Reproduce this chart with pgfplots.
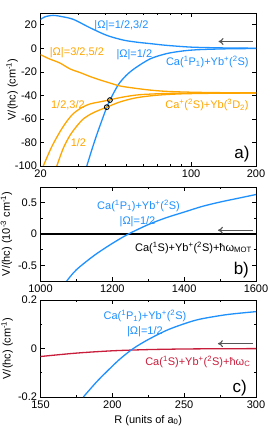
\documentclass[border=0pt]{standalone}
\usepackage{fontspec}
\setmainfont{Liberation Sans}
\usepackage{pgfplots}
\pgfplotsset{compat=1.18}
\usetikzlibrary{arrows.meta}

\definecolor{cblue}{RGB}{30,144,255}
\definecolor{corange}{RGB}{255,165,0}
\definecolor{cred}{RGB}{200,30,60}
\definecolor{cgray}{RGB}{85,85,85}

\newcommand{\fs}{\fontsize{11}{13}\selectfont}

\pgfplotsset{
 myax/.style={scale only axis, width=215.5pt, anchor=south west,
   tick align=inside, xtick pos=both, ytick pos=both,
   xticklabel pos=lower, yticklabel pos=left,
   major tick length=4pt, minor tick length=2pt,
   tick style={black, line width=0.6pt},
   axis line style={line width=0.8pt},
   /pgf/number format/assume math mode=true,
   /pgf/number format/1000 sep={},
   scaled x ticks=false, scaled y ticks=false,
   ticklabel style={font=\fs},
   xlabel style={font=\fs},
   every axis plot/.append style={line width=1.3pt},
 },
 arr/.style={cgray, line width=1.1pt, -{To[length=5pt,width=7pt]}},
}

\begin{document}
\begin{tikzpicture}
\path[use as bounding box] (0pt,0pt) rectangle (269pt,428pt);

% ---------------- panel a
\begin{axis}[myax, at={(40.5pt,262pt)}, height=153pt,
  xmode=log, xmin=20, xmax=200,
  xtick={20,100,200}, xticklabels={20,100,200},
  minor xtick={30,40,50,60,70,80,90},
  ymin=-100, ymax=30, ytick={-100,-80,...,20},
  every axis y label/.style={at={(axis description cs:-0.132,0.5)},rotate=90,anchor=center,font=\fs},
  ylabel={V/(hc) (cm\textsuperscript{-1})}]
\addplot[cblue, smooth] coordinates {(20,24.5) (21,26.8) (22.9,28) (25,27) (28.4,24.6) (33.9,17.5) (40.6,11) (48.4,7) (56,5.2) (64.5,4) (77,2.5) (100,1) (130,0.45) (160,0.2) (200,0.1)};
\addplot[cblue, smooth] coordinates {(32.8,-100) (34.5,-87) (36.4,-74) (38.5,-61.5) (40.6,-50) (42,-44) (45.9,-31) (50,-23) (54.8,-17) (64.5,-9) (77,-4.5) (92,-2.2) (110,-1.1) (150,-0.4) (200,-0.2)};
\addplot[corange, smooth] coordinates {(20,-5.4) (22,-9) (24.6,-12.5) (27.4,-17.5) (30.5,-20.6) (34,-24) (37.8,-26.9) (42,-29.5) (46.7,-32) (53.7,-33.7) (64.5,-35.5) (77,-36.6) (100,-37.3) (140,-37.7) (200,-37.8)};
\addplot[corange, smooth] coordinates {(20.6,-100) (22.5,-84) (24.6,-71) (26.5,-62) (28.4,-55.5) (31,-50.5) (33.9,-47.3) (37,-45.8) (41,-44.2) (48,-41.5) (58,-39.4) (80,-38.3) (120,-38) (200,-37.9)};
\addplot[corange, smooth] coordinates {(23.8,-100) (25.5,-85) (27.4,-74) (29.5,-66) (31.6,-60) (34.5,-55.5) (37.5,-52.5) (40.6,-50) (46,-46) (52,-43.2) (58,-41.5) (70,-39.8) (90,-38.7) (130,-38.2) (200,-38)};
\addplot[only marks, mark=o, mark size=2.4pt, black, line width=0.9pt] coordinates {(40.6,-50) (42,-44)};
\addplot[arr] coordinates {(194,5.8) (134,5.8)};
\node[cblue, font=\fs] at (axis cs:47.5,19.5) {|Ω|=1/2,3/2};
\node[cblue, font=\fs] at (axis cs:54.5,-5.4) {|Ω|=1/2};
\node[cblue, font=\fs, anchor=east] at (axis cs:192,-11.2) {Ca(\textsuperscript{1}P\textsubscript{1})+Yb\textsuperscript{+}(\textsuperscript{2}S)};
\node[corange, font=\fs] at (axis cs:29.5,-4) {|Ω|=3/2,5/2};
\node[corange, font=\fs] at (axis cs:26.8,-48.3) {1/2,3/2};
\node[corange, font=\fs] at (axis cs:30,-80) {1/2};
\node[corange, font=\fs, anchor=east] at (axis cs:192,-48.3) {Ca\textsuperscript{+}(\textsuperscript{2}S)+Yb(\textsuperscript{3}D\textsubscript{2})};
\node[font=\fontsize{17}{19}\selectfont, anchor=east] at (axis cs:194,-89.6) {a)};
\end{axis}

% ---------------- panel b
\begin{axis}[myax, at={(40.5pt,147pt)}, height=94pt,
  xmin=1000, xmax=1600, xtick={1000,1200,1400,1600}, minor x tick num=1,
  ymin=-0.75, ymax=0.75, ytick={-0.5,0,0.5}, minor y tick num=1,
  every axis y label/.style={at={(axis description cs:-0.158,0.5)},rotate=90,anchor=center,font=\fs},
  ylabel={V/(hc) (10\textsuperscript{-3} cm\textsuperscript{-1})}]
\addplot[black, line width=1.6pt] coordinates {(1000,0) (1600,0)};
\addplot[cblue, smooth] coordinates {(1073,-0.75) (1100,-0.57) (1150,-0.34) (1200,-0.15) (1245,0) (1300,0.15) (1350,0.26) (1400,0.35) (1450,0.44) (1500,0.51) (1550,0.57) (1600,0.63)};
\addplot[arr] coordinates {(1592,0.06) (1494,0.06)};
\node[cblue, font=\fs] at (axis cs:1273,0.45) {Ca(\textsuperscript{1}P\textsubscript{1})+Yb\textsuperscript{+}(\textsuperscript{2}S)};
\node[cblue, font=\fs] at (axis cs:1270,0.19) {|Ω|=1/2};
\node[font=\fs, anchor=east] at (axis cs:1598,-0.22) {Ca(\textsuperscript{1}S)+Yb\textsuperscript{+}(\textsuperscript{2}S)+ħω\textsubscript{MOT}};
\node[font=\fontsize{17}{19}\selectfont, anchor=east] at (axis cs:1590,-0.58) {b)};
\end{axis}

% ---------------- panel c
\begin{axis}[myax, at={(40.5pt,31pt)}, height=97pt,
  xmin=150, xmax=300, xtick={150,200,250,300}, minor x tick num=1,
  ymin=-0.2, ymax=0.2, ytick={-0.2,0,0.2}, minor y tick num=1,
  every axis y label/.style={at={(axis description cs:-0.155,0.5)},rotate=90,anchor=center,font=\fs},
  ylabel={V/(hc) (cm\textsuperscript{-1})},
  xlabel={R (units of a\textsubscript{0})}]
\addplot[cred, smooth] coordinates {(150,-0.033) (175,-0.019) (200,-0.0095) (225,-0.0045) (250,-0.002) (275,-0.001) (300,-0.0005)};
\addplot[cblue, smooth] coordinates {(179.8,-0.2) (189,-0.138) (196,-0.096) (205,-0.045) (214.6,0) (225,0.037) (237.8,0.075) (250,0.102) (261,0.121) (280,0.14) (300,0.152)};
\addplot[arr] coordinates {(298,0.02) (273.5,0.02)};
\node[cblue, font=\fs] at (axis cs:222.7,0.133) {Ca(\textsuperscript{1}P\textsubscript{1})+Yb\textsuperscript{+}(\textsuperscript{2}S)};
\node[cblue, font=\fs] at (axis cs:222.7,0.068) {|Ω|=1/2};
\node[cred, font=\fs, anchor=east] at (axis cs:298.5,-0.054) {Ca(\textsuperscript{1}S)+Yb\textsuperscript{+}(\textsuperscript{2}S)+ħω\textsubscript{C}};
\node[font=\fontsize{17}{19}\selectfont, anchor=east] at (axis cs:296,-0.163) {c)};
\end{axis}
\end{tikzpicture}
\end{document}
